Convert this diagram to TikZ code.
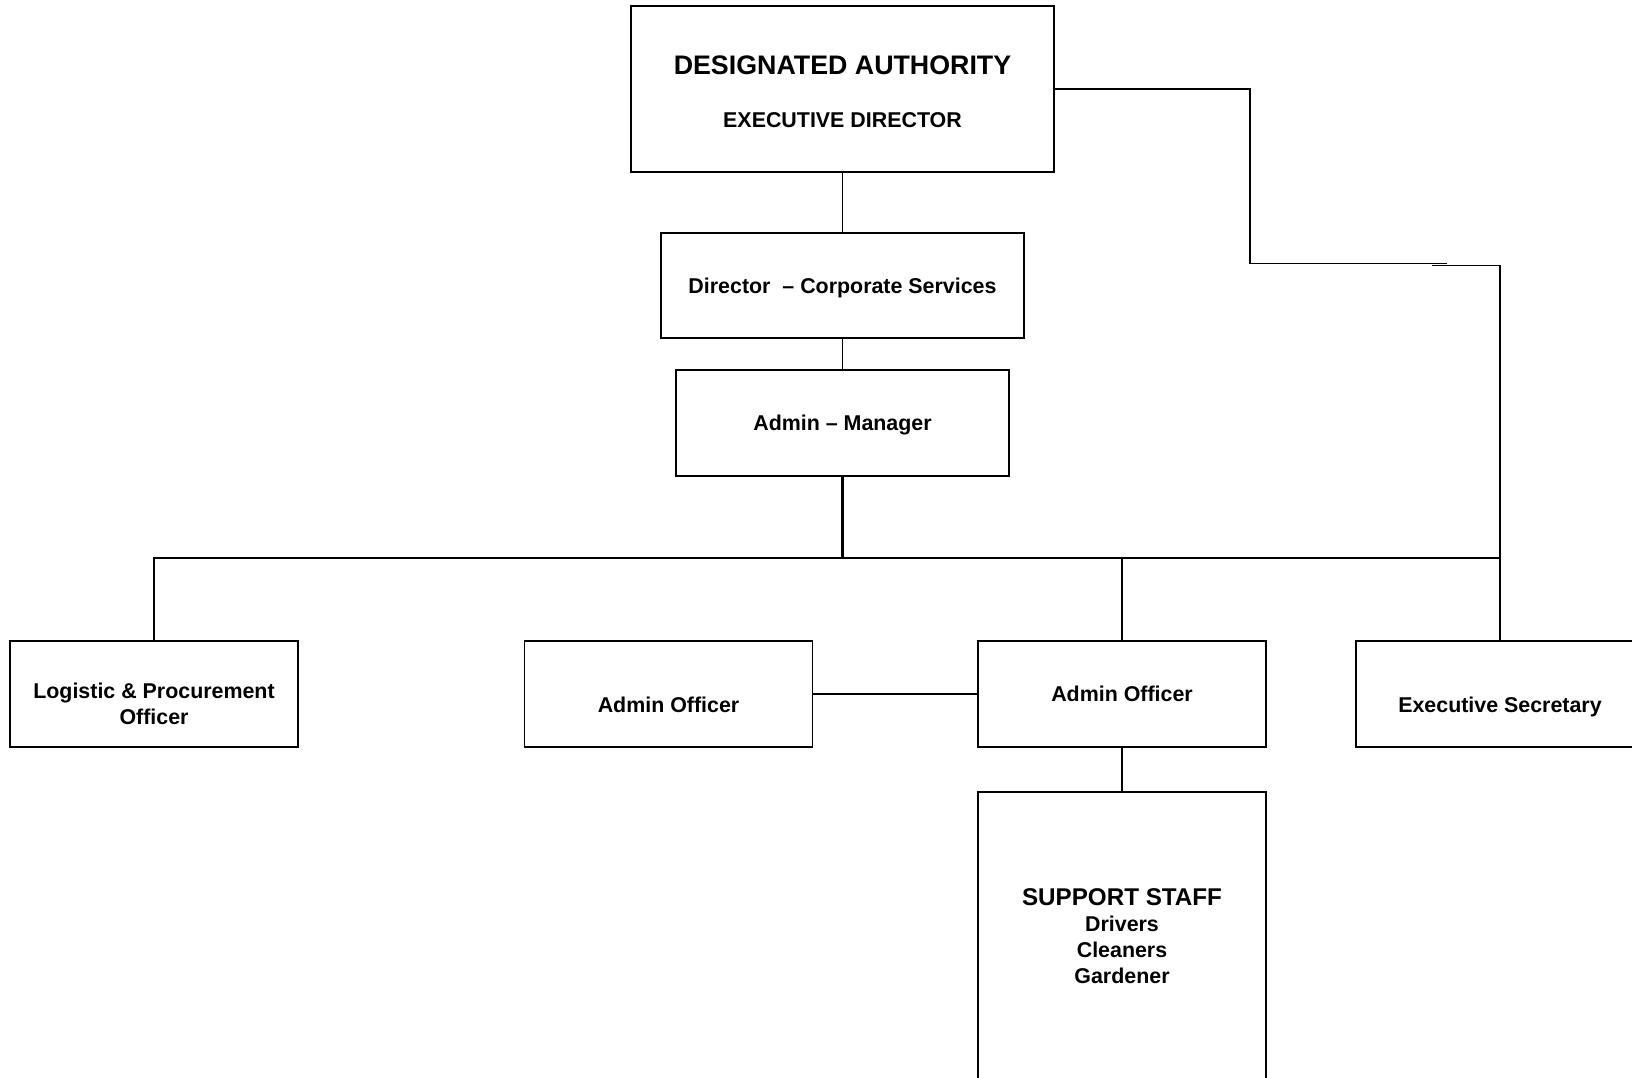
\documentclass[tikz,border=0pt]{standalone}
\usepackage{fontspec}
\setmainfont{Liberation Sans}
\usetikzlibrary{positioning}

\begin{document}
\begin{tikzpicture}[
        x=0.5pt, y=-0.5pt,
        font=\bfseries\fontsize{10.7pt}{13pt}\selectfont,
        unit/.style={rectangle, draw=black, line width=0.9pt, minimum width=144pt, minimum height=53pt, align=center, inner sep=2pt},
        link/.style={line width=0.8pt},
        trunk/.style={line width=1.2pt},
        lowtext/.style={text height=18.6pt, text depth=0pt}
    ]
        \useasboundingbox (0,0) rectangle (1632,1077);
        \clip (0,0) rectangle (1632,1077);

        \node[unit, minimum width=211.5pt, minimum height=83pt, text height=38pt, text depth=0pt] (da) at (842.5,89) {{\fontsize{13.4pt}{13pt}\selectfont DESIGNATED AUTHORITY}\\[13.1pt]EXECUTIVE DIRECTOR};
        \node[unit, minimum width=181.5pt, minimum height=52.5pt, text depth=-2pt, below=29.5pt of da] (dcs) {Director\ \ – Corporate Services};
        \node[unit, minimum width=166.5pt, text depth=-2pt, below=15pt of dcs] (am) {Admin – Manager};

        \node[unit, text height=30.6pt, text depth=0pt] (lpo) at (154,694) {Logistic \& Procurement\\Officer};
        \node[unit, lowtext] (ao1) at (668.5,694) {Admin Officer};
        \node[unit] (ao2) at (1122,694) {Admin Officer};
        \node[unit, lowtext] (es) at (1500,694) {Executive Secretary};
        \node[unit, minimum height=144.5pt, below=21.5pt of ao2] (ss) {{\fontsize{12.1pt}{13pt}\selectfont SUPPORT STAFF}\\Drivers\\Cleaners\\Gardener};

        \coordinate (bus) at (842.5,558);
        \coordinate (jog) at (1250,263.5);
        \coordinate (jogend) at (1447,263.5);
        \coordinate (drop) at (1432,265.5);

        \draw[link] (da) -- (dcs);
        \draw[link] (dcs) -- (am);
        \draw[trunk] (am) -- (bus);
        \draw[link] (lpo) |- (bus) -| (es);
        \draw[link] (bus -| ao2) -- (ao2);
        \draw[link] (ao1) -- (ao2);
        \draw[link] (ao2) -- (ss);
        \draw[link] (da.east) -| (jog) -- (jogend);
        \draw[link] (drop) -| (es);
    \end{tikzpicture}
\end{document}
